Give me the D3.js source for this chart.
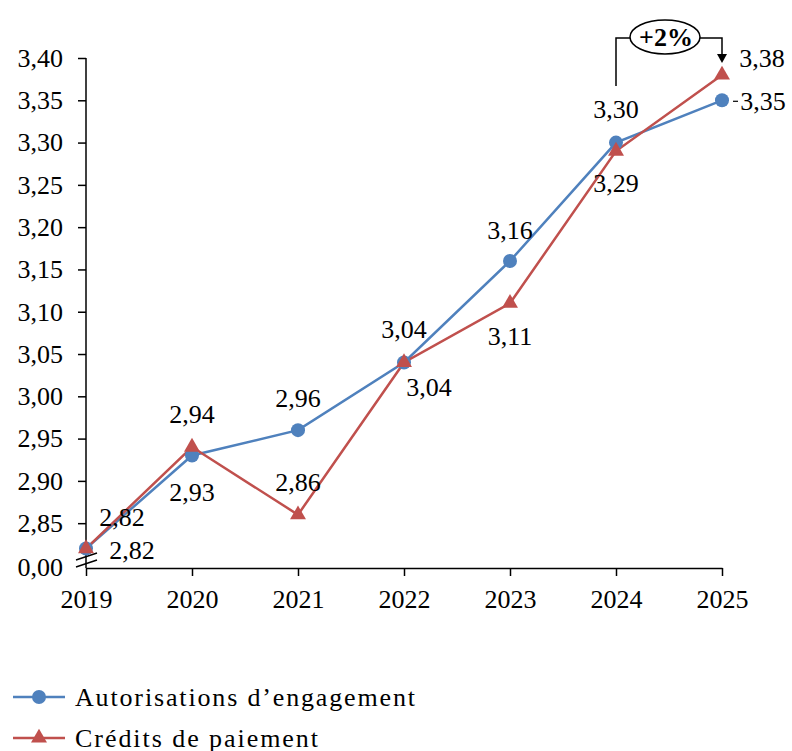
<!DOCTYPE html>
<html><head><meta charset="utf-8">
<script src="https://cdn.jsdelivr.net/npm/d3@7"></script>
<style>body{margin:0;background:#fff}svg{display:block}</style>
</head><body>
<svg id="c" width="792" height="751"></svg>
<script>
const years = ["2019","2020","2021","2022","2023","2024","2025"];
const ae = [2.82, 2.93, 2.96, 3.04, 3.16, 3.30, 3.35];
const cp = [2.82, 2.94, 2.86, 3.04, 3.11, 3.29, 3.38];
const yTicks = [2.85, 2.90, 2.95, 3.00, 3.05, 3.10, 3.15, 3.20, 3.25, 3.30, 3.35, 3.40];
const seriesNames = ["Autorisations d\u2019engagement", "Crédits de paiement"];
const annotation = "+2%";
// label offsets [dx, dy] relative to point (style only)
const aeOff = [[46,1],[0,36],[0,-32],[0,-34],[0,-31],[0,-34],[41,1]];
const cpOff = [[36,-32],[0,-33],[0,-33],[25,24],[0,33],[0,32],[40,-17]];

const svg = d3.select("#c");
const font = "'Liberation Serif', 'DejaVu Serif', serif";
const blue = "#4F81BD", red = "#C0504D";
const x = d3.scalePoint().domain(years).range([86, 722]);
const y = d3.scaleLinear().domain([2.797, 3.40]).range([568, 58]);
const fmt = v => d3.format(".2f")(v).replace(".", ",");

// y axis
const gy = svg.append("g").attr("transform","translate(86,0)")
  .call(d3.axisLeft(y).tickValues(yTicks).tickFormat(fmt).tickSize(8).tickSizeOuter(0));
gy.append("g").attr("class","tick").attr("transform",`translate(0,${y(2.797)})`)
  .append("text").attr("dy","0.32em").text(fmt(0)).attr("fill","#000");
gy.selectAll("text").attr("font-family",font).attr("font-size",26).attr("fill","#000").attr("x",-23);
gy.selectAll("line").attr("stroke","#000").attr("stroke-width",1.5);
gy.select(".domain").attr("stroke","#000").attr("stroke-width",1.5)
  .attr("d",`M0,${y(3.40)}V${y(2.797)}`);

// x axis
const gx = svg.append("g").attr("transform",`translate(0,${y(2.797)})`)
  .call(d3.axisBottom(x).tickSize(8).tickSizeOuter(0).tickPadding(14));
gx.selectAll("text").attr("font-family",font).attr("font-size",26).attr("fill","#000");
gx.selectAll("line").attr("stroke","#000").attr("stroke-width",1.5);
gx.select(".domain").attr("stroke","#000").attr("stroke-width",1.5);

// axis break marks
svg.append("path").attr("d","M76,560L97,553M76,567L97,560").attr("stroke","#000").attr("stroke-width",1.5);

// lines
const line = d3.line().x((d,i)=>x(years[i])).y(d=>y(d));
svg.append("path").datum(ae).attr("d",line).attr("fill","none").attr("stroke",blue).attr("stroke-width",2.5);
svg.append("path").datum(cp).attr("d",line).attr("fill","none").attr("stroke",red).attr("stroke-width",2.5);
svg.selectAll(".ae").data(ae).join("circle").attr("cx",(d,i)=>x(years[i])).attr("cy",d=>y(d)).attr("r",7).attr("fill",blue);
const tri = d3.symbol().type(d3.symbolTriangle).size(110);
svg.selectAll(".cp").data(cp).join("path").attr("d",tri)
  .attr("transform",(d,i)=>`translate(${x(years[i])},${y(d)})`).attr("fill",red);

// data labels
function labels(data, off){
  svg.append("g").selectAll("text").data(data).join("text")
    .attr("x",(d,i)=>x(years[i])+off[i][0]).attr("y",(d,i)=>y(d)+off[i][1])
    .attr("dy","0.35em").attr("text-anchor","middle")
    .attr("font-family",font).attr("font-size",26).attr("fill","#000").text(d=>fmt(d));
}
labels(ae, aeOff); labels(cp, cpOff);
// leader dash for 2025 AE label
svg.append("line").attr("x1",x("2025")+11).attr("x2",x("2025")+16).attr("y1",y(3.35)+1).attr("y2",y(3.35)+1).attr("stroke","#000").attr("stroke-width",1.2);

// annotation
const ax1 = x("2024"), ax2 = x("2025"), ay = 38;
svg.append("path").attr("d",`M${ax1},86V${ay}H630M700,${ay}H${ax2}V56`).attr("fill","none").attr("stroke","#000").attr("stroke-width",1.5);
svg.append("path").attr("d",`M${ax2-5},54L${ax2+5},54L${ax2},63Z`).attr("fill","#000");
svg.append("ellipse").attr("cx",665).attr("cy",37).attr("rx",35).attr("ry",17).attr("fill","#fff").attr("stroke","#000").attr("stroke-width",1.5);
svg.append("text").attr("x",666).attr("y",37).attr("dy","0.35em").attr("text-anchor","middle")
  .attr("font-family",font).attr("font-size",26).attr("font-weight","bold").text(annotation);

// legend
const lg = svg.append("g");
const legW = [340, 243];
[0,1].forEach(i=>{
  const ly = 697 + i*41;
  lg.append("line").attr("x1",13).attr("x2",65).attr("y1",ly).attr("y2",ly).attr("stroke",i?red:blue).attr("stroke-width",2.5);
  if(i===0) lg.append("circle").attr("cx",39).attr("cy",ly).attr("r",7).attr("fill",blue);
  else lg.append("path").attr("d",tri).attr("transform",`translate(39,${ly})`).attr("fill",red);
  lg.append("text").attr("x",75).attr("y",ly).attr("dy","0.35em").attr("font-family",font).attr("font-size",26)
    .attr("textLength",legW[i]).attr("lengthAdjust","spacing").text(seriesNames[i]);
});
</script>
</body></html>
